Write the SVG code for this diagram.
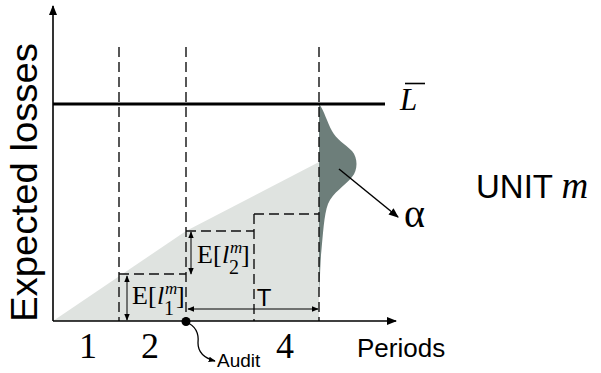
<svg xmlns="http://www.w3.org/2000/svg" width="601" height="373" viewBox="0 0 601 373">
  <defs>
    <marker id="head" viewBox="0 0 10 10" refX="9" refY="5" markerWidth="10" markerHeight="10" markerUnits="userSpaceOnUse" orient="auto-start-reverse">
      <path d="M0,1 L10,5 L0,9 Z" fill="#000"/>
    </marker>
    <marker id="small" viewBox="0 0 10 10" refX="9" refY="5" markerWidth="7" markerHeight="7" markerUnits="userSpaceOnUse" orient="auto-start-reverse">
      <path d="M0,1 L10,5 L0,9 Z" fill="#000"/>
    </marker>
  </defs>
  <style>
    .axis { stroke: #000; stroke-width: 1.6; fill: none; }
    .dash { stroke: #111; stroke-width: 1.4; stroke-dasharray: 10 5; fill: none; }
    .dim { stroke: #000; stroke-width: 1; fill: none; }
    .sans { font-family: "Liberation Sans", Arial, sans-serif; fill: #000; }
    .serif { font-family: "Liberation Serif", "Times New Roman", serif; fill: #000; }
    .it { font-style: italic; }
  </style>
  <rect width="601" height="373" fill="#fff"/>

  <!-- shaded area under the expected-loss curve -->
  <g id="shade">
    <polygon points="53,321 186,231 319,162 319,321" fill="#dfe3e0"/>
  </g>

  <!-- loss distribution at the end of the horizon -->
  <g id="distribution">
    <path d="M319,104 C324,110 327,122 332,131 C336,139 345,144 352,151 C358,158 358,170 352,177 C345,186 333,192 328,204 C324,214 323,235 321,255 C320,270 320,282 319,292 Z" fill="#6d7e7a"/>
  </g>

  <!-- period boundaries and expected-loss steps -->
  <g id="steps">
    <line class="dash" x1="119" y1="47" x2="119" y2="321"/>
    <line class="dash" x1="186" y1="47" x2="186" y2="321"/>
    <line class="dash" x1="254" y1="214" x2="254" y2="321"/>
    <line class="dash" x1="319" y1="47" x2="319" y2="321"/>
    <line class="dash" x1="119" y1="274" x2="186" y2="274"/>
    <line class="dash" x1="186" y1="231" x2="254" y2="231"/>
    <line class="dash" x1="254" y1="214" x2="319" y2="214"/>
  </g>

  <!-- threshold line -->
  <g id="threshold">
    <line x1="53" y1="104" x2="385" y2="104" stroke="#000" stroke-width="3"/>
    <text class="serif it" x="400" y="110" font-size="31">L</text>
    <line x1="405" y1="83.5" x2="425" y2="83.5" stroke="#000" stroke-width="1.6"/>
  </g>

  <!-- axes -->
  <g id="axes">
    <line class="axis" x1="53" y1="321" x2="53" y2="6" marker-end="url(#head)"/>
    <line class="axis" x1="53" y1="321" x2="396" y2="321" marker-end="url(#head)"/>
    <text class="sans" transform="translate(36.5,322) rotate(-90)" font-size="36" textLength="279" lengthAdjust="spacingAndGlyphs">Expected losses</text>
    <text class="sans" x="357" y="357" font-size="26">Periods</text>
    <text class="serif" x="88" y="358" font-size="36" text-anchor="middle">1</text>
    <text class="serif" x="150" y="358" font-size="36" text-anchor="middle">2</text>
    <text class="serif" x="285" y="358" font-size="36" text-anchor="middle">4</text>
  </g>

  <!-- connectors: dimension arrows and callouts -->
  <g id="connectors">
    <line class="dim" x1="127" y1="276" x2="127" y2="320" marker-start="url(#small)" marker-end="url(#small)"/>
    <line class="dim" x1="191" y1="232" x2="191" y2="274" marker-start="url(#small)" marker-end="url(#small)"/>
    <line class="dim" x1="188" y1="309" x2="318" y2="309" marker-start="url(#small)" marker-end="url(#small)"/>
    <line x1="339" y1="169" x2="398" y2="217" stroke="#000" stroke-width="1.5" marker-end="url(#head)"/>
    <path d="M186,322 C196,326 199,334 198,343 C198,352 204,358 215,361" stroke="#000" stroke-width="1.3" fill="none" marker-end="url(#small)"/>
  </g>

  <!-- step labels -->
  <g id="label-l1">
    <text class="serif" x="132" y="304" font-size="26">E[</text>
    <text class="serif it" x="157" y="304" font-size="26">l</text>
    <text class="serif it" x="165" y="294" font-size="17">m</text>
    <text class="serif" x="164" y="315" font-size="20">1</text>
    <text class="serif" x="176" y="304" font-size="26">]</text>
  </g>
  <g id="label-l2">
    <text class="serif" x="197" y="263" font-size="26">E[</text>
    <text class="serif it" x="222" y="263" font-size="26">l</text>
    <text class="serif it" x="230" y="253" font-size="17">m</text>
    <text class="serif" x="229" y="274" font-size="20">2</text>
    <text class="serif" x="241" y="263" font-size="26">]</text>
  </g>
  <g id="label-T">
    <text class="sans" x="264" y="306" font-size="24" text-anchor="middle">T</text>
  </g>

  <!-- audit point -->
  <g id="audit">
    <circle cx="186" cy="321.5" r="4.5" fill="#000"/>
    <text class="sans" x="217" y="367" font-size="19">Audit</text>
  </g>

  <!-- tail probability -->
  <g id="alpha">
    <text class="serif" x="404" y="227" font-size="40">α</text>
  </g>

  <!-- unit label -->
  <g id="unit">
    <text class="sans" x="476" y="198" font-size="33">UNIT <tspan class="serif it" font-size="37">m</tspan></text>
  </g>
</svg>
